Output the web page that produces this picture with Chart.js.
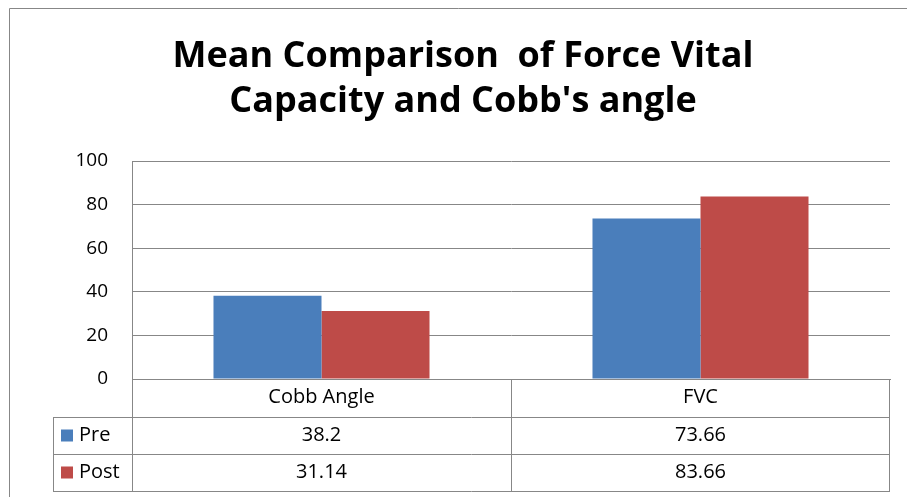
<!DOCTYPE html>
<html>
<head>
<meta charset="utf-8">
<script src="https://cdn.jsdelivr.net/npm/chart.js@4"></script>
<style>
  html, body { margin: 0; padding: 0; background: #fff; }
  #wrap { width: 907px; height: 497px; position: relative; }
</style>
</head>
<body>
<div id="wrap"><canvas id="chart" width="907" height="497"></canvas></div>
<script>
  const categories = ['Cobb Angle', 'FVC'];
  const preValues  = [38.2, 73.66];
  const postValues = [31.14, 83.66];
  const yTicks     = [0, 20, 40, 60, 80, 100];
  const titleLines = ['Mean Comparison  of Force Vital', "Capacity and Cobb's angle"];

  const lineColor = '#878787';
  const bodyFont  = "'Open Sans', Lato, sans-serif";

  // data table under the plot, Excel style
  const dataTable = {
    id: 'dataTable',
    afterDraw(chart) {
      const ctx = chart.ctx;
      const area = chart.chartArea;
      const x = chart.scales.x;
      const rowTop = x.bottom;
      const rowH = 37;
      const keyLeft = 53;
      const mid = (x.getPixelForTick(0) + x.getPixelForTick(1)) / 2;
      ctx.save();
      ctx.strokeStyle = lineColor;
      ctx.lineWidth = 1;
      ctx.beginPath();
      // outer chart frame (left / top)
      ctx.moveTo(9.5, 497); ctx.lineTo(9.5, 8.5); ctx.lineTo(907, 8.5);
      // verticals
      ctx.moveTo(area.left + 0.5, area.bottom); ctx.lineTo(area.left + 0.5, rowTop + rowH * 2);
      ctx.moveTo(Math.round(mid) + 0.5, area.bottom); ctx.lineTo(Math.round(mid) + 0.5, rowTop + rowH * 2);
      ctx.moveTo(area.right - 0.5, area.bottom); ctx.lineTo(area.right - 0.5, rowTop + rowH * 2);
      ctx.moveTo(keyLeft + 0.5, rowTop); ctx.lineTo(keyLeft + 0.5, rowTop + rowH * 2);
      // horizontals
      for (let r = 0; r <= 2; r++) {
        const yy = Math.round(rowTop + rowH * r) + 0.5;
        ctx.moveTo(keyLeft, yy); ctx.lineTo(area.right, yy);
      }
      ctx.stroke();

      ctx.font = '20px ' + bodyFont;
      ctx.textBaseline = 'middle';
      chart.data.datasets.forEach((ds, r) => {
        const cy = rowTop + rowH * r + rowH / 2;
        ctx.fillStyle = ds.backgroundColor;
        ctx.fillRect(61, cy - 6, 12, 12);
        ctx.fillStyle = '#000';
        ctx.textAlign = 'left';
        ctx.fillText(ds.label, 79, cy);
        ctx.textAlign = 'center';
        ds.data.forEach((v, i) => {
          ctx.fillText(String(v), x.getPixelForTick(i), cy);
        });
      });
      ctx.restore();
    }
  };

  new Chart(document.getElementById('chart'), {
    type: 'bar',
    data: {
      labels: categories,
      datasets: [
        { label: 'Pre',  data: preValues,  backgroundColor: '#4a7ebb' },
        { label: 'Post', data: postValues, backgroundColor: '#be4b48' }
      ]
    },
    options: {
      responsive: false,
      animation: false,
      events: [],
      layout: { padding: { left: 36, right: 17, top: 0, bottom: 80 } },
      datasets: { bar: { categoryPercentage: 0.57, barPercentage: 1 } },
      plugins: {
        legend: { display: false },
        tooltip: { enabled: false },
        title: {
          display: true,
          text: titleLines,
          color: '#000',
          font: { family: bodyFont, size: 36, weight: 'bold', lineHeight: 1.25 },
          padding: { top: 34, bottom: 37 }
        }
      },
      scales: {
        x: {
          grid: { display: false, drawTicks: false },
          border: { display: true, color: lineColor },
          ticks: { color: '#000', font: { family: bodyFont, size: 20 }, padding: 6 },
          afterFit: s => { s.height = 38; }
        },
        y: {
          min: 0, max: 100,
          afterBuildTicks: s => { s.ticks = yTicks.map(v => ({ value: v })); },
          grid: { color: lineColor, drawTicks: false },
          border: { display: true, color: lineColor },
          ticks: { color: '#000', font: { family: bodyFont, size: 19 }, padding: 24 },
          afterFit: s => { s.width = 96; }
        }
      }
    },
    plugins: [dataTable]
  });
</script>
</body>
</html>
